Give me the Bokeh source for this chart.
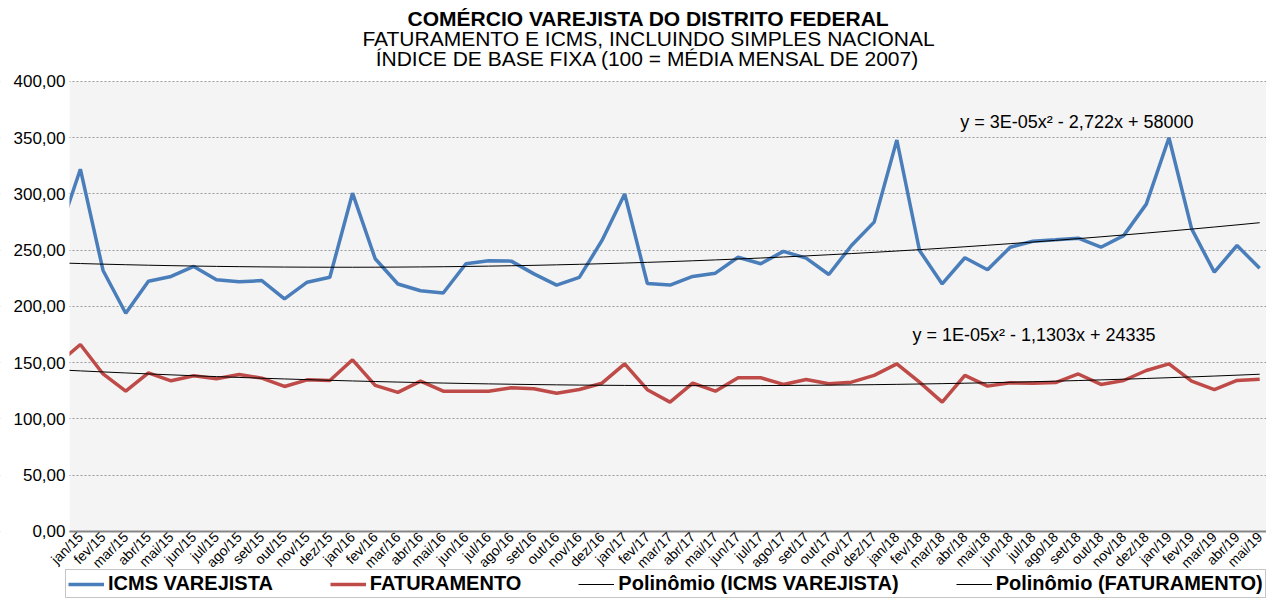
import numpy as np
from bokeh.plotting import figure
from bokeh.models import Range1d, FixedTicker, Label, Legend, LegendItem, BoxAnnotation
from bokeh.embed import file_html
from bokeh.resources import INLINE

# ---------------- data ----------------
months = ["dez/14",
          "jan/15", "fev/15", "mar/15", "abr/15", "mai/15", "jun/15", "jul/15", "ago/15", "set/15", "out/15", "nov/15", "dez/15",
          "jan/16", "fev/16", "mar/16", "abr/16", "mai/16", "jun/16", "jul/16", "ago/16", "set/16", "out/16", "nov/16", "dez/16",
          "jan/17", "fev/17", "mar/17", "abr/17", "mai/17", "jun/17", "jul/17", "ago/17", "set/17", "out/17", "nov/17", "dez/17",
          "jan/18", "fev/18", "mar/18", "abr/18", "mai/18", "jun/18", "jul/18", "ago/18", "set/18", "out/18", "nov/18", "dez/18",
          "jan/19", "fev/19", "mar/19", "abr/19", "mai/19"]

icms = [262,
        322, 232, 194, 222.5, 226.7, 235.6, 223.7, 222, 223, 206.8, 221.6, 226,
        300.7, 242.4, 220, 214, 212, 238, 240.6, 240.3, 229, 219, 225.8, 258.7,
        300, 220.4, 219, 226.7, 229.6, 243.8, 238, 249, 243, 228.4, 254.2, 275,
        348, 249.8, 220, 243.3, 232.6, 252.7, 258, 259.3, 260.7, 252.7, 263, 291,
        350, 269, 230.5, 254.2, 234]

fat = [149,
       166.2, 140, 124.7, 141, 133.9, 138.4, 135.7, 139.6, 136.3, 128.9, 134.8, 134.2,
       152.6, 129.8, 123.6, 133.6, 124.7, 124.7, 124.7, 127.7, 126.8, 122.9, 126.2, 131.8,
       149, 126, 115, 131.8, 124.7, 136.6, 136.6, 130.7, 135.1, 131.3, 132.7, 138.7,
       149, 132.7, 115, 138.7, 129.2, 132.1, 131.8, 132.4, 140, 130.7, 134.2, 143.1,
       149, 133.6, 126, 134.2, 135.4]

y_ticks = [0, 50, 100, 150, 200, 250, 300, 350, 400]
y_tick_labels = ["0,00", "50,00", "100,00", "150,00", "200,00", "250,00", "300,00", "350,00", "400,00"]

title_lines = ["COMÉRCIO VAREJISTA DO DISTRITO FEDERAL",
               "FATURAMENTO E ICMS, INCLUINDO SIMPLES NACIONAL",
               "ÍNDICE DE BASE FIXA (100 = MÉDIA MENSAL DE 2007)"]
eq_icms = "y = 3E-05x² - 2,722x + 58000"
eq_fat = "y = 1E-05x² - 1,1303x + 24335"

# ---------------- figure ----------------
FONT = "Liberation Sans"
xs = list(range(-1, len(months) - 1))
X0, X1 = -0.48, 52.3          # visible category window of the plot area

# the frame spans the whole figure; axes are pinned inside it
p = figure(width=1266, height=598, output_backend="svg", toolbar_location=None, title=None,
           x_range=Range1d(-3.522, X1), y_range=Range1d(-59.6, 472),
           min_border_left=0, min_border_right=0, min_border_top=0, min_border_bottom=0,
           background_fill_color="white", border_fill_color="white", outline_line_color=None)

# plot-area shading
p.add_layout(BoxAnnotation(left=X0, bottom=0, top=400, fill_color="#F4F4F4", fill_alpha=1.0,
                           line_color=None, level="image"))

# trend lines (quadratic least squares fits of the series)
xi = np.array(xs, dtype=float)
c_icms = np.polyfit(xi, np.array(icms), 2)
c_fat = np.polyfit(xi, np.array(fat), 2)

r_icms = p.line(xs, icms, line_color="#4A7EBB", line_width=3.5)
r_fat = p.line(xs, fat, line_color="#BE4B48", line_width=3.5)
r_ti = p.line(xi, np.polyval(c_icms, xi), line_color="black", line_width=1)
r_tf = p.line(xi, np.polyval(c_fat, xi), line_color="black", line_width=1)

# white margin left of the plot area (drawn above the lines, below the axes)
p.add_layout(BoxAnnotation(right=X0, fill_color="white", fill_alpha=1.0,
                           line_color=None, level="glyph"))

# axes
p.xaxis.fixed_location = 0
p.xaxis.bounds = (X0, X1)
p.xaxis.ticker = FixedTicker(ticks=xs[1:])
p.xaxis.major_label_overrides = {x: m for x, m in zip(xs, months)}
p.xaxis.major_label_orientation = np.pi / 4
p.xaxis.major_label_text_font = FONT
p.xaxis.major_label_text_font_size = "14px"
p.xaxis.major_label_text_color = "black"
p.xaxis.major_tick_line_color = None
p.xaxis.minor_tick_line_color = None
p.xaxis.major_tick_out = 0
p.xaxis.major_label_standoff = 3
p.xaxis.axis_line_color = "#868686"
p.xaxis.axis_line_width = 2

p.yaxis.fixed_location = X0
p.yaxis.bounds = (0, 400)
p.yaxis.ticker = FixedTicker(ticks=y_ticks)
p.yaxis.major_label_overrides = {t: l for t, l in zip(y_ticks, y_tick_labels)}
p.yaxis.major_label_text_font = FONT
p.yaxis.major_label_text_font_size = "17px"
p.yaxis.major_label_text_color = "black"
p.yaxis.major_tick_line_color = None
p.yaxis.minor_tick_line_color = None
p.yaxis.major_tick_out = 0
p.yaxis.major_label_standoff = 4
p.yaxis.axis_line_color = None

p.xgrid.grid_line_color = None
p.ygrid.grid_line_color = "#9a9a9a"
p.ygrid.grid_line_dash = "2 2"
p.ygrid.grid_line_width = 1

# titles
for txt, yv, style in zip(title_lines, [456, 438.2, 420.4], ["bold", "normal", "normal"]):
    p.add_layout(Label(x=25.05, y=yv, text=txt, text_align="center", text_baseline="middle",
                       text_font=FONT, text_font_size="21px", text_font_style=style,
                       text_color="black"))

# trend equations
p.add_layout(Label(x=43.94, y=364.4, text=eq_icms, text_align="center", text_baseline="middle",
                   text_font=FONT, text_font_size="18px", text_color="black"))
p.add_layout(Label(x=42.05, y=174.2, text=eq_fat, text_align="center", text_baseline="middle",
                   text_font=FONT, text_font_size="18px", text_color="black"))

# legend
legend = Legend(items=[LegendItem(label="ICMS VAREJISTA", renderers=[r_icms]),
                       LegendItem(label="FATURAMENTO", renderers=[r_fat]),
                       LegendItem(label="Polinômio (ICMS VAREJISTA)", renderers=[r_ti]),
                       LegendItem(label="Polinômio (FATURAMENTO)", renderers=[r_tf])],
                orientation="horizontal", location=(65, 0),
                label_text_font=FONT, label_text_font_style="bold", label_text_font_size="20px",
                label_text_color="black", label_standoff=4,
                glyph_width=36, glyph_height=18, label_height=18,
                spacing=57, padding=2, margin=0,
                border_line_color="#8c8c8c", border_line_width=1.5,
                background_fill_color="white", background_fill_alpha=1.0)
p.add_layout(legend)

open("out.html", "w").write(file_html(p, INLINE))
